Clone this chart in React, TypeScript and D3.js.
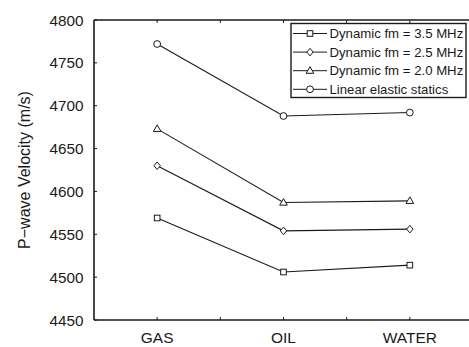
import React from "react";
import * as d3 from "d3";

const categories = ["GAS", "OIL", "WATER"];
const seriesNames = [
  "Dynamic fm = 3.5 MHz",
  "Dynamic fm = 2.5 MHz",
  "Dynamic fm = 2.0 MHz",
  "Linear elastic statics",
];
const fm35 = [4569, 4506, 4514];
const fm25 = [4630, 4554, 4556];
const fm20 = [4673, 4587, 4589];
const statics = [4772, 4688, 4692];
const yTicks = [4450, 4500, 4550, 4600, 4650, 4700, 4750, 4800];
const markerTypes = ["square", "diamond", "triangle", "circle"];

const W = 469;
const H = 347;
const left = 94;
const top = 20;
const bottom = 320;
const right = 473;

function Marker({ type, x, y }: { type: string; x: number; y: number }) {
  const common = { fill: "#fff", stroke: "#1a1a1a", strokeWidth: 1 };
  if (type === "square") return <rect x={x - 2.8} y={y - 2.8} width={5.6} height={5.6} {...common} />;
  if (type === "diamond")
    return <path d={`M${x},${y - 3.8}L${x + 3.2},${y}L${x},${y + 3.8}L${x - 3.2},${y}Z`} {...common} />;
  if (type === "triangle")
    return <path d={`M${x},${y - 4}L${x + 3.8},${y + 2.6}L${x - 3.8},${y + 2.6}Z`} {...common} />;
  return <circle cx={x} cy={y} r={3.4} {...common} />;
}

export default function App() {
  const series = [fm35, fm25, fm20, statics];
  const x = d3.scaleLinear().domain([0.5, 3.5]).range([left, right]);
  const y = d3.scaleLinear().domain([4450, 4800]).range([bottom, top]);
  const line = d3
    .line<number>()
    .x((_, i) => x(i + 1))
    .y((d) => y(d));
  const xTickVals = d3.range(1, 3.01, 0.5);
  const font = "'Liberation Sans', Arial, sans-serif";

  const lgX = 291;
  const lgY = 23.5;
  const lgW = 175;
  const lgH = 74;
  const rowY = (i: number) => lgY + 10 + i * 18.6;

  return (
    <svg width={W} height={H} style={{ position: "absolute", left: 0, top: 0, background: "#fff" }} fontFamily={font}>
      {series.map((s, si) => (
        <g key={si}>
          <path d={line(s) || ""} fill="none" stroke="#1a1a1a" strokeWidth={1.1} />
          {s.map((v, i) => (
            <Marker key={i} type={markerTypes[si]} x={x(i + 1)} y={y(v)} />
          ))}
        </g>
      ))}
      <line x1={left} x2={right} y1={top} y2={top} stroke="#1a1a1a" strokeWidth={1.6} />
      <line x1={left} x2={right} y1={bottom} y2={bottom} stroke="#1a1a1a" strokeWidth={1.6} />
      <line x1={left} x2={left} y1={top} y2={bottom} stroke="#1a1a1a" strokeWidth={1.6} />
      {yTicks.map((t) => (
        <g key={t}>
          <line x1={left} x2={left + 3} y1={y(t)} y2={y(t)} stroke="#1a1a1a" strokeWidth={1} />
          <text x={left - 10.5} y={y(t)} dy="0.36em" textAnchor="end" fontSize={15.3} fill="#1a1a1a">
            {t}
          </text>
        </g>
      ))}
      {xTickVals.map((t) => (
        <g key={t}>
          <line x1={x(t)} x2={x(t)} y1={bottom} y2={bottom - 3} stroke="#1a1a1a" strokeWidth={1} />
          <line x1={x(t)} x2={x(t)} y1={top} y2={top + 3} stroke="#1a1a1a" strokeWidth={1} />
        </g>
      ))}
      {categories.map((c, i) => (
        <text key={c} x={x(i + 1)} y={342.8} textAnchor="middle" fontSize={15.5} fill="#1a1a1a">
          {c}
        </text>
      ))}
      <text
        transform={`translate(30,${(top + bottom) / 2}) rotate(-90)`}
        textAnchor="middle"
        fontSize={16}
        fill="#1a1a1a"
      >
        P−wave Velocity (m/s)
      </text>
      <rect x={lgX} y={lgY} width={lgW} height={lgH} fill="#fff" stroke="#1a1a1a" strokeWidth={1.4} />
      {seriesNames.map((n, i) => (
        <g key={n}>
          <line x1={lgX + 2} x2={lgX + 36} y1={rowY(i)} y2={rowY(i)} stroke="#1a1a1a" strokeWidth={1} />
          <Marker type={markerTypes[i]} x={lgX + 19} y={rowY(i)} />
          <text x={lgX + 38.5} y={rowY(i)} dy="0.36em" fontSize={13.2} fill="#1a1a1a">
            {n}
          </text>
        </g>
      ))}
    </svg>
  );
}
